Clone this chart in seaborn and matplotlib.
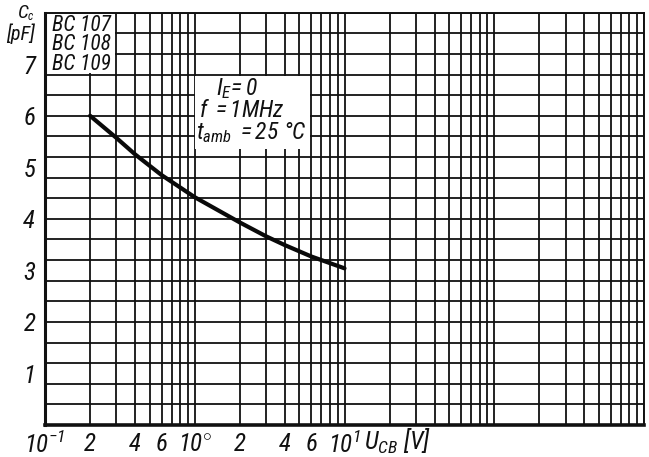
import numpy as np
import pandas as pd
import matplotlib
matplotlib.use("Agg")
import matplotlib.pyplot as plt
import matplotlib.ticker as mticker
from matplotlib import font_manager as fm
from matplotlib.patches import Rectangle
import seaborn as sns

# ---- data ----
u_cb = [0.2, 0.3, 0.4, 0.6, 1.0, 2.0, 3.0, 4.0, 6.0, 10.0]          # V
c_c = [6.0, 5.57, 5.25, 4.85, 4.42, 3.93, 3.66, 3.49, 3.27, 3.04]   # pF
x_tick_vals = [0.1, 0.2, 0.4, 0.6, 1, 2, 4, 6, 10]
x_tick_labels = [r"$10^{-1}$", "2", "4", "6", r"$10^{\circ}$", "2", "4", "6", r"$10^{1}$"]
y_tick_vals = [1, 2, 3, 4, 5, 6, 7]
devices = ["BC 107", "BC 108", "BC 109"]
conditions = [r"$I_E\!=0$", r"$f\ =1\mathrm{MHz}$", r"$t_{amb}\ =25\ °C$"]

sns.set_style("white")

# pick a narrow sans family if one is installed
have = [(f.name, f.stretch) for f in fm.fontManager.ttflist]
names = {n for n, _ in have}
if "Liberation Sans Narrow" in names:
    FAM, STRETCH = "Liberation Sans Narrow", "normal"
elif "Roboto Condensed" in names:
    FAM, STRETCH = "Roboto Condensed", "normal"
elif any(n == "DejaVu Sans" and s in ("condensed", "semi-condensed") for n, s in have):
    FAM, STRETCH = "DejaVu Sans", "condensed"
else:
    FAM, STRETCH = "DejaVu Sans", "normal"

ink = "#111111"
FONT = [FAM, "DejaVu Sans"]
plt.rcParams["font.family"] = FONT
plt.rcParams["font.style"] = "italic"
plt.rcParams["font.stretch"] = STRETCH
plt.rcParams["mathtext.fontset"] = "custom"
pat = f"{FAM}:style=italic:stretch={STRETCH}"
plt.rcParams["mathtext.it"] = pat
plt.rcParams["mathtext.rm"] = pat
plt.rcParams["mathtext.sf"] = pat
plt.rcParams["text.color"] = ink
plt.rcParams["xtick.labelcolor"] = ink
plt.rcParams["ytick.labelcolor"] = ink

FS = 18
W, H = 649, 457
fig = plt.figure(figsize=(W / 100, H / 100), dpi=100)
L, R, B, T = 45, 644, 425, 12.7
ax = fig.add_axes([L / W, (H - B) / H, (R - L) / W, (B - T) / H])

df = pd.DataFrame({"U": u_cb, "C": c_c})
sns.lineplot(data=df, x="U", y="C", ax=ax, color="#0a0a0a", linewidth=3.0, zorder=3)
ax.set_xlabel("")
ax.set_ylabel("")

ax.set_xscale("log")
ax.set_xlim(0.1, 1000)
ax.set_ylim(0, 8)

# grid: every 1..9 x decade, every 0.4 pF
ax.xaxis.remove_overlapping_locs = False
ax.yaxis.remove_overlapping_locs = False
ax.xaxis.set_minor_locator(mticker.LogLocator(base=10, subs=np.arange(1, 10), numticks=100))
ax.xaxis.set_minor_formatter(mticker.NullFormatter())
ax.yaxis.set_minor_locator(mticker.MultipleLocator(0.4))
ax.yaxis.set_minor_formatter(mticker.NullFormatter())
ax.grid(False, which="major")
ax.grid(True, which="minor", color=ink, linewidth=1.3)
ax.set_axisbelow(True)

ax.set_xticks(x_tick_vals)
ax.set_xticklabels(x_tick_labels)
ax.set_yticks(y_tick_vals)
ax.set_yticklabels([str(v) for v in y_tick_vals])
ax.tick_params(axis="x", which="both", length=0, pad=5, labelsize=FS)
ax.tick_params(axis="y", which="major", direction="in", length=9, width=1.3, color=ink, pad=7, labelsize=FS)
ax.tick_params(axis="y", which="minor", length=0)

for s in ax.spines.values():
    s.set_color(ink)
    s.set_linewidth(1.4)
ax.spines["left"].set_linewidth(2.2)
ax.spines["bottom"].set_linewidth(2.6)

# white boxes hiding the grid
ax.add_patch(Rectangle((0.1, 6.83), 0.293 - 0.1, 8 - 6.83, facecolor="white", edgecolor="none", zorder=1))
ax.add_patch(Rectangle((1.01, 5.35), 5.9 - 1.01, 6.77 - 5.35, facecolor="white", edgecolor="none", zorder=1))

def axfrac(px, py):
    return (px - L) / (R - L), (B - py) / (B - T)

for name, py in zip(devices, [31, 50, 70]):
    ax.text(*axfrac(52, py), name, transform=ax.transAxes, ha="left", va="baseline",
            fontsize=15.5, zorder=4)

for txt, (px, py) in zip(conditions, [(237, 95), (242, 117), (251, 139)]):
    ax.text(*axfrac(px, py), txt, transform=ax.transAxes, ha="center", va="baseline",
            fontsize=17, zorder=4)

# axis titles (C with small subscript c, then unit)
fig.text(18 / W, 1 - 18 / H, "C", ha="left", va="baseline", fontsize=14)
fig.text(28 / W, 1 - 20 / H, "c", ha="left", va="baseline", fontsize=8.5)
fig.text(20 / W, 1 - 40 / H, "[pF]", ha="center", va="baseline", fontsize=14.5)
fig.text(364 / W, 1 - 441 / H, r"$U_{CB}\ [V]$", ha="left", va="center", fontsize=FS)

fig.savefig("out.png", dpi=100, facecolor="white")
